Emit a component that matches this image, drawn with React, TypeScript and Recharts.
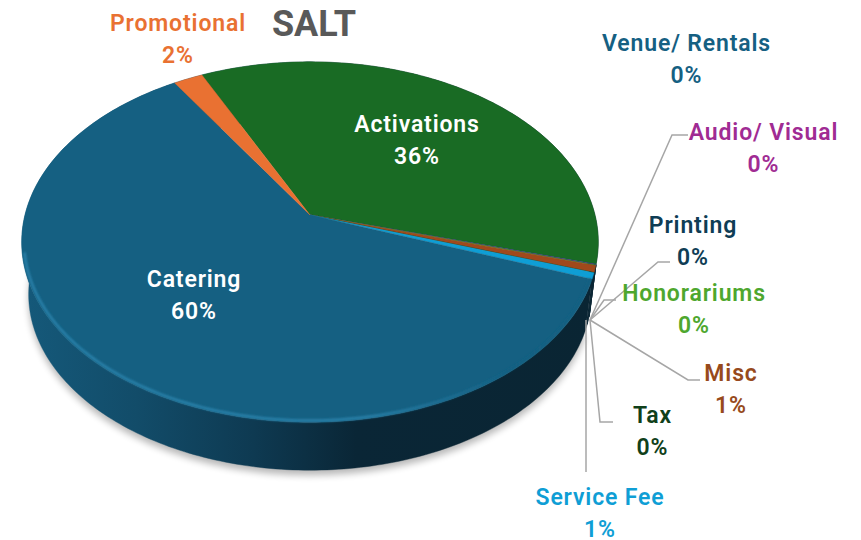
import { Pie, PieChart } from "recharts";

// slice order runs clockwise from the Promotional / Activations edge
const categories = ["Activations", "Venue/ Rentals", "Audio/ Visual", "Printing", "Honorariums", "Misc", "Tax", "Service Fee", "Catering", "Promotional"];
const shares = [36.4, 0.03, 0.03, 0.03, 0.03, 0.6, 0.03, 0.55, 60.4, 1.9];
const sliceColors = ["#196B24", "#156082", "#A02B93", "#0F4761", "#4EA72E", "#A0491C", "#0F3F16", "#0F9ED5", "#156082", "#E97132"];
const labelColors = ["#ffffff", "#156082", "#A02B93", "#0F3D55", "#4EA72E", "#974A1C", "#10401A", "#0F9ED5", "#ffffff", "#E97132"];

const rows = categories.map((name, i) => ({ name, value: shares[i], fill: sliceColors[i], labelFill: labelColors[i] }));

// label placement, same order as categories
const labelX = [417, 686.5, 763.5, 693, 694, 731, 652.5, 600, 194, 178];
const labelY = [124, 43, 132, 225, 293, 373, 415, 497, 279, 23];

// leader lines, keyed by category index
const leaders: Record<number, string> = {
  2: "590,320 672,135 688,135",
  3: "590,320 658,262 670,262",
  4: "590,320 604,300 616,300",
  5: "590,320 688,380 700,380",
  6: "590,320 600,422 613,422",
  7: "586,320 586,472",
};

const FONT = "Roboto, sans-serif";
const CX = 310;
const CY = 215;
const RX = 285;
const SQUASH = 0.618;
const TILT = 0.15; // perspective: the far edge sits closer to the apex
const DEPTH = 53;
const BASE_SCALE = 0.976;

const project = (deg: number, cx: number, cy: number, r: number, scale = 1, dy = 0) => {
  const t = (deg * Math.PI) / 180;
  const k = 1 + TILT * Math.sin(t);
  return {
    x: cx + (scale * r * Math.cos(t)) / k,
    y: cy + dy - (scale * r * SQUASH * Math.sin(t)) / k,
  };
};

const arcPoints = (start: number, end: number, cx: number, cy: number, r: number, scale = 1, dy = 0) => {
  const steps = Math.max(2, Math.ceil(Math.abs(end - start)));
  const pts: string[] = [];
  for (let i = 0; i <= steps; i++) {
    const p = project(start + ((end - start) * i) / steps, cx, cy, r, scale, dy);
    pts.push(`${p.x.toFixed(2)} ${p.y.toFixed(2)}`);
  }
  return pts;
};

function TopFace(props: any) {
  const { cx, cy, outerRadius, startAngle, endAngle, fill, name } = props;
  const rim = arcPoints(startAngle, endAngle, cx, cy, outerRadius);
  const d = `M${cx} ${cy} L${rim.join(" L")} Z`;
  // the lit edge only shows along the front of the disc
  const lit = arcPoints(startAngle, Math.max(endAngle, -168), cx, cy, outerRadius, 0.992);
  return (
    <g>
      <path d={d} fill={fill} stroke={fill} strokeWidth={0.4} />
      {name === "Catering" && <path d={`M${lit.join(" L")}`} fill="none" stroke="url(#rimLight)" strokeWidth={2.5} filter="url(#soft1)" />}
    </g>
  );
}

function WallFace(props: any) {
  const { cx, cy, outerRadius, startAngle, endAngle, name } = props;
  const upper = arcPoints(startAngle, endAngle, cx, cy, outerRadius);
  const lower = arcPoints(endAngle, startAngle, cx, cy, outerRadius, BASE_SCALE, DEPTH);
  const d = `M${upper.join(" L")} L${lower.join(" L")} Z`;
  return (
    <g>
      {name === "Catering" && (
        <path d={`M${lower.join(" L")} Z`} transform="translate(0 5)" fill="#000" opacity={0.28} filter="url(#soft3)" />
      )}
      <path d={d} fill="url(#wallShade)" stroke="url(#wallShade)" strokeWidth={0.4} />
    </g>
  );
}

function SliceLabel(props: any) {
  const { index, percent, payload } = props;
  const color = payload?.labelFill ?? props.labelFill;
  return (
    <g style={{ fontFamily: FONT, fontSize: 23, fontWeight: 600, letterSpacing: 0.85 }}>
      <text x={labelX[index]} y={labelY[index]} textAnchor="middle" dominantBaseline="central" fill={color}>
        {categories[index]}
      </text>
      <text x={labelX[index]} y={labelY[index] + 32} textAnchor="middle" dominantBaseline="central" fill={color}>
        {`${Math.round(percent * 100)}%`}
      </text>
    </g>
  );
}

function Leader(props: any) {
  const pts = leaders[props.index];
  if (!pts) return <g />;
  return <polyline points={pts} fill="none" stroke="#A6A6A6" strokeWidth={1.5} />;
}

export default function App() {
  return (
    <div style={{ position: "absolute", left: 0, top: 0, width: 861, height: 540 }}>
      <PieChart width={861} height={540} margin={{ top: 0, right: 0, bottom: 0, left: 0 }}>
        <defs>
          <linearGradient id="wallShade" gradientUnits="userSpaceOnUse" x1="22" y1="0" x2="598" y2="0">
            <stop offset="0" stopColor="#15597A" />
            <stop offset="0.2" stopColor="#124C69" />
            <stop offset="0.4" stopColor="#0E3A52" />
            <stop offset="0.58" stopColor="#0A2636" />
            <stop offset="1" stopColor="#0A2533" />
          </linearGradient>
          <linearGradient id="rimLight" gradientUnits="userSpaceOnUse" x1="22" y1="0" x2="598" y2="0">
            <stop offset="0" stopColor="#2A82AB" />
            <stop offset="0.6" stopColor="#2A82AB" />
            <stop offset="0.85" stopColor="#156082" />
          </linearGradient>
          <filter id="soft1" x="-5%" y="-5%" width="110%" height="110%">
            <feGaussianBlur stdDeviation="1" />
          </filter>
          <filter id="soft3" x="-5%" y="-5%" width="110%" height="110%">
            <feGaussianBlur stdDeviation="3.5" />
          </filter>
        </defs>
        <Pie
          data={rows}
          dataKey="value"
          nameKey="name"
          cx={CX}
          cy={CY}
          outerRadius={RX}
          startAngle={115.5}
          endAngle={-244.5}
          shape={WallFace}
          isAnimationActive={false}
        />
        <Pie
          data={rows}
          dataKey="value"
          nameKey="name"
          cx={CX}
          cy={CY}
          outerRadius={RX}
          startAngle={115.5}
          endAngle={-244.5}
          shape={TopFace}
          label={SliceLabel}
          labelLine={Leader}
          isAnimationActive={false}
        />
        <text x={314} y={24} textAnchor="middle" dominantBaseline="central" fill="#595959" style={{ fontFamily: FONT, fontSize: 36, fontWeight: 700 }}>
          SALT
        </text>
      </PieChart>
    </div>
  );
}
